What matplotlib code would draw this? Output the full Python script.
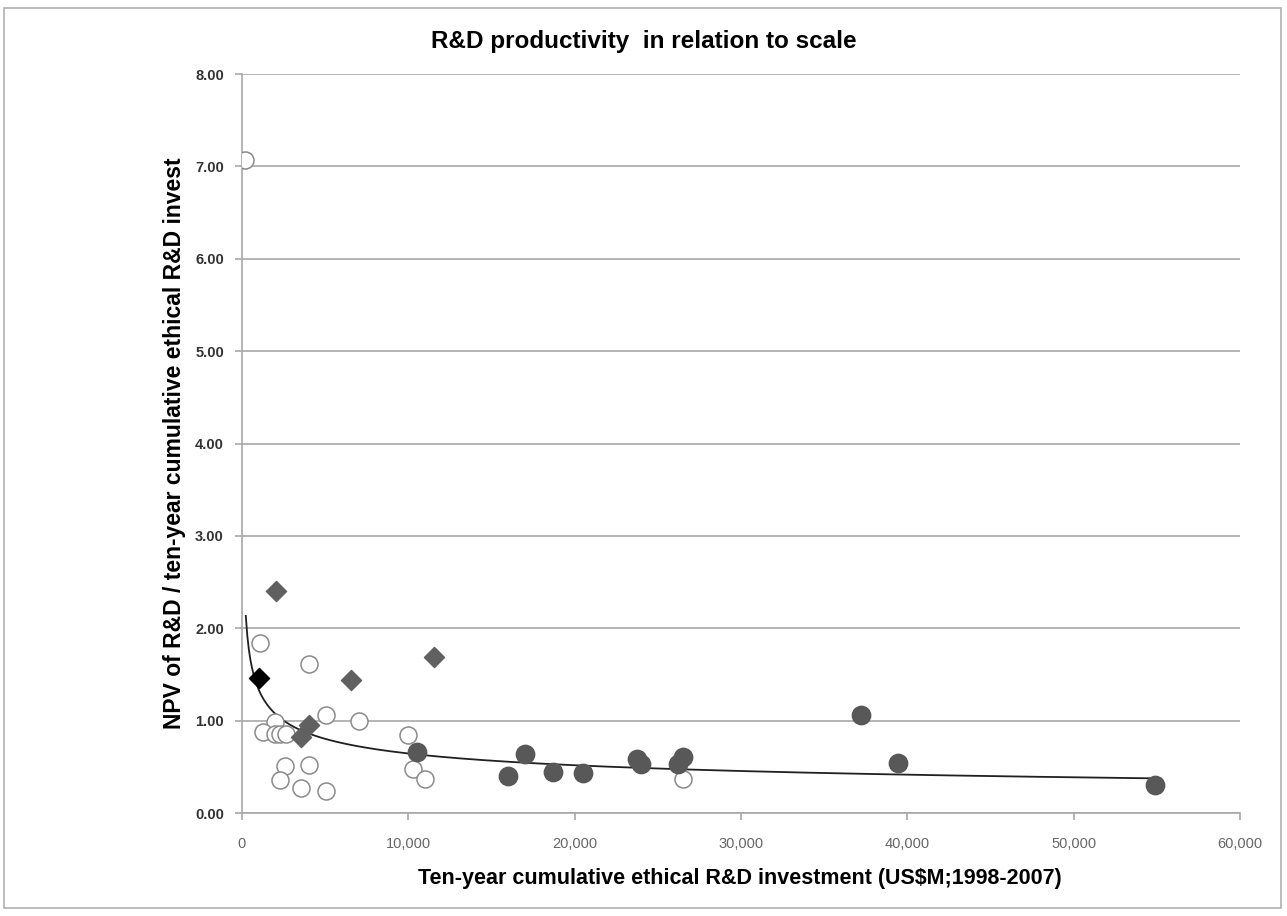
import matplotlib.pyplot as plt
import numpy as np
from matplotlib.patches import Rectangle
from matplotlib.ticker import FuncFormatter

plt.rcParams['font.family'] = ['Liberation Sans', 'DejaVu Sans']

# open circles
open_x = [180, 1080, 4050, 5050, 7050, 1990, 1240, 1990, 2290, 2650, 10000,
          10270, 11000, 2590, 2290, 4050, 3530, 5050, 26500]
open_y = [7.07, 1.84, 1.61, 1.06, 1.00, 0.99, 0.88, 0.86, 0.86, 0.86, 0.85,
          0.48, 0.37, 0.51, 0.36, 0.52, 0.27, 0.24, 0.37]

# filled circles
big_x = [10540, 16020, 17020, 18720, 20530, 23730, 23970, 26500, 26240,
         37200, 39460, 54900]
big_y = [0.66, 0.40, 0.64, 0.44, 0.43, 0.58, 0.53, 0.61, 0.53,
         1.06, 0.54, 0.30]

# grey diamonds
dia_x = [2045, 11550, 6540, 4050, 3530]
dia_y = [2.40, 1.69, 1.44, 0.95, 0.82]

# black diamond
blk_x = [1040]
blk_y = [1.46]

fig = plt.figure(figsize=(12.87, 9.16), dpi=100)
fig.patches.append(Rectangle((0.003, 0.009), 0.992, 0.982, transform=fig.transFigure,
                             fill=False, edgecolor='#b0b0b0', lw=1.2))
ax = fig.add_axes([0.188, 0.1124, 0.7755, 0.8068])

ax.scatter(open_x, open_y, s=150, facecolor='white', edgecolor='#8a8a8a', lw=1.1, zorder=3)
ax.scatter(big_x, big_y, s=175, color='#585858', zorder=3)
ax.scatter(dia_x, dia_y, s=105, marker='D', color='#606060', zorder=3)
ax.scatter(blk_x, blk_y, s=105, marker='D', color='black', zorder=3)

# power trend line fitted to all points
allx = np.array(open_x + big_x + dia_x + blk_x, dtype=float)
ally = np.array(open_y + big_y + dia_y + blk_y, dtype=float)
b, lna = np.polyfit(np.log(allx), np.log(ally), 1)
tx = np.linspace(230, allx.max(), 600)
ax.plot(tx, np.exp(lna) * tx ** b, color='#202020', lw=1.3, zorder=2)

ax.set_xlim(0, 60000)
ax.set_ylim(0, 8)
ax.set_yticks(np.arange(0, 9, 1))
ax.set_xticks(np.arange(0, 60001, 10000))
ax.yaxis.set_major_formatter(FuncFormatter(lambda v, p: '%.2f' % v))
ax.xaxis.set_major_formatter(FuncFormatter(lambda v, p: '{:,.0f}'.format(v)))
ax.grid(axis='y', color='#a8a8a8', lw=1.2)
ax.set_axisbelow(True)
for s in ['top', 'right']:
    ax.spines[s].set_visible(False)
ax.spines['left'].set_color('#a8a8a8')
ax.spines['bottom'].set_color('#a8a8a8')
ax.spines['left'].set_linewidth(1.2)
ax.spines['bottom'].set_linewidth(1.2)
ax.tick_params(axis='y', colors='#a8a8a8', length=5, width=1.2, labelcolor='#333333',
               labelsize=10.5, pad=8)
ax.tick_params(axis='x', colors='#a8a8a8', length=5, width=1.2, labelcolor='#666666',
               labelsize=10.5, pad=12)
for t in ax.get_yticklabels():
    t.set_fontweight('bold')

ax.set_xlabel('Ten-year cumulative ethical R&D investment (US$M;1998-2007)',
              fontsize=15.5, fontweight='bold')
ax.xaxis.set_label_coords(0.499, -0.075)
ax.set_ylabel('NPV of R&D / ten-year cumulative ethical R&D invest',
              fontsize=16.5, fontweight='bold')
ax.yaxis.set_label_coords(-0.056, 0.5)
fig.text(0.5004, 0.955, 'R&D productivity  in relation to scale', ha='center', va='center',
         fontsize=17.5, fontweight='bold')

plt.savefig('out.png')
